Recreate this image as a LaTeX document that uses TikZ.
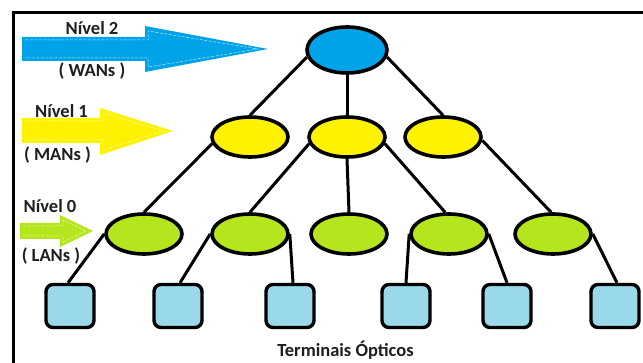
\documentclass[tikz,border=0pt]{standalone}
\usepackage{fontspec}
\setmainfont{Carlito}
\usetikzlibrary{backgrounds,shapes.geometric}
\definecolor{wanblue}{RGB}{0,162,232}
\definecolor{manyellow}{RGB}{255,242,0}
\definecolor{langreen}{RGB}{181,230,29}
\definecolor{termblue}{RGB}{153,217,234}
\tikzset{
  px/.style={x=1pt,y=-1pt},
  netnode/.style={ellipse,draw=black,line width=3.6pt,inner sep=0pt,minimum width=76pt,minimum height=40pt},
  wannode/.style={netnode,fill=wanblue,minimum width=80pt,minimum height=46pt},
  mannode/.style={netnode,fill=manyellow},
  lannode/.style={netnode,fill=langreen},
  termnode/.style={rectangle,rounded corners=7pt,draw=black,line width=3.4pt,fill=termblue,minimum width=48pt,minimum height=43pt,inner sep=0pt},
  link/.style={line width=3pt,black},
  label/.style={font=\bfseries\fontsize{18.5}{21}\selectfont,text=black!88,inner sep=0pt},
  shine/.style={white,opacity=0.75,line width=0.5pt,dash pattern=on 3pt off 1.5pt,line join=miter}
}
\begin{document}
\begin{tikzpicture}[px]
\useasboundingbox (0,0) rectangle (643,363);

% frame
\draw[line width=3pt] (13,363) -- (13,13) -- (643,13);

% level arrows
\fill[wanblue] (22,37) -- (145,37) -- (145,26) -- (268,49) -- (145,72) -- (145,61) -- (22,61) -- cycle;
\draw[shine] (25,40) -- (148,40) -- (148,31) -- (258,49) -- (148,67) -- (148,58) -- (25,58);
\fill[manyellow] (22,118) -- (100,118) -- (100,108) -- (173,131) -- (100,155) -- (100,143) -- (22,143) -- cycle;
\draw[shine] (25,121) -- (103,121) -- (103,113) -- (164,131) -- (103,150) -- (103,140) -- (25,140);
\fill[langreen] (20,223) -- (60,223) -- (60,215) -- (93,231) -- (60,247) -- (60,239) -- (20,239) -- cycle;
\draw[shine] (23,226) -- (63,226) -- (63,220) -- (86,231) -- (63,242) -- (63,236) -- (23,236);

% level labels
\node[label] (n2) at (92,28) {Nível 2};
\node[label] (w2) at (92,71) {( WANs )};
\node[label] (n1) at (61.5,111) {Nível 1};
\node[label] (w1) at (57.5,155) {( MANs )};
\node[label] (n0) at (50,206) {Nível 0};
\node[label] (w0) at (51,256) {( LANs )};
\node[label] (term) at (345.5,350) {Terminais Ópticos};

% network hierarchy
\node[wannode] (b) at (347,50) {};

\node[mannode] (y1) at (250,137) {};
\node[mannode] (y2) at (347,137) {};
\node[mannode] (y3) at (443,137) {};

\node[lannode] (g1) at (144,234) {};
\node[lannode] (g2) at (250,234) {};
\node[lannode] (g3) at (349,234) {};
\node[lannode] (g4) at (449,234) {};
\node[lannode] (g5) at (553,234) {};

\node[termnode] (s1) at (70,306) {};
\node[termnode] (s2) at (178,306) {};
\node[termnode] (s3) at (290,306) {};
\node[termnode] (s4) at (406,306) {};
\node[termnode] (s5) at (507,306) {};
\node[termnode] (s6) at (615,306) {};

\begin{scope}[on background layer]
  \fill[white] (0,0) rectangle (643,363);
  \draw[link] (b.190) -- (y1.north);
  \draw[link] (b.south) -- (y2.north);
  \draw[link] (b.350) -- (y3.north);
  \draw[link] (y1.190) -- (g1.north);
  \draw[link] (y2.190) -- (g2.north);
  \draw[link] (y2.south) -- (g3.north);
  \draw[link] (y2.350) -- (g4.100);
  \draw[link] (y3.355) -- (g5.95);
  \draw[link] (g1.west) -- ([xshift=-2pt]s1.north);
  \draw[link] (g2.west) -- ([xshift=2pt]s2.north);
  \draw[link] (g2.east) -- ([xshift=3pt]s3.north);
  \draw[link] (g4.west) -- (s4.north);
  \draw[link] (g4.east) -- (s5.north);
  \draw[link] (g5.east) -- ([xshift=2pt]s6.north);
\end{scope}
\end{tikzpicture}
\end{document}
